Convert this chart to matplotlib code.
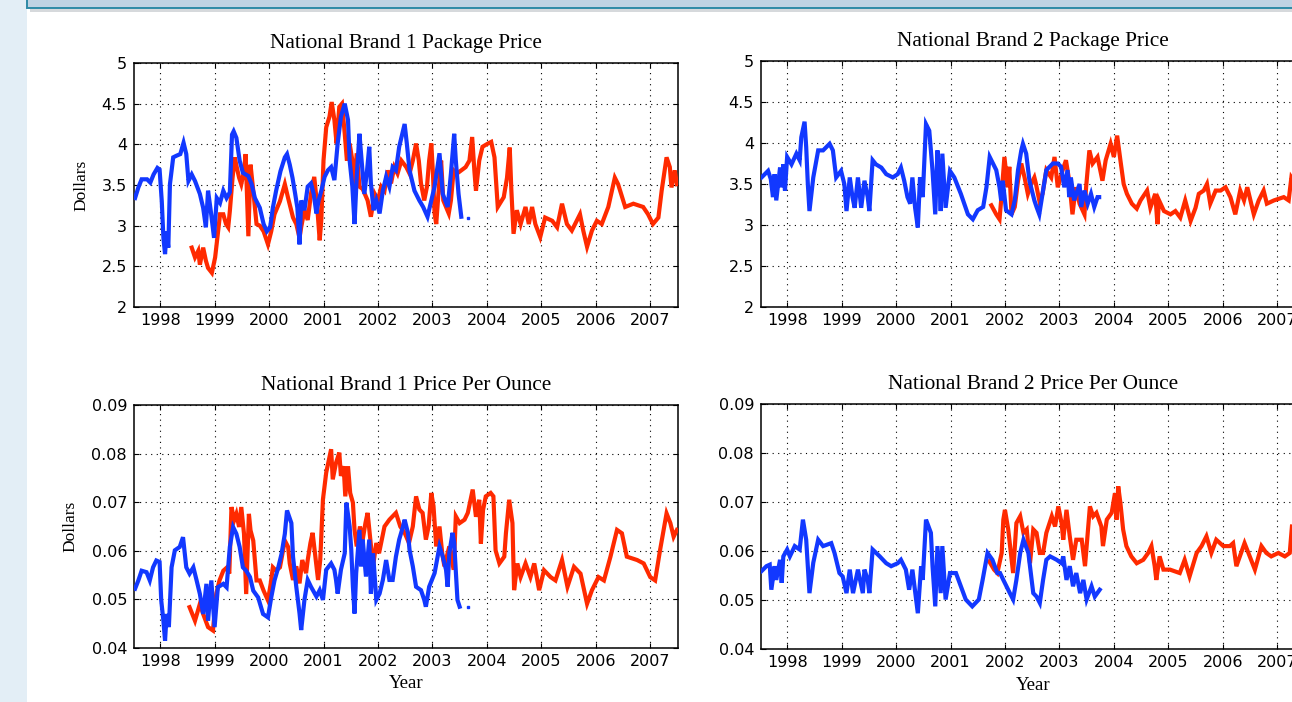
import matplotlib
matplotlib.use("Agg")
import matplotlib.pyplot as plt
from matplotlib.patches import Rectangle

# ---- data ----
years = [1998, 1999, 2000, 2001, 2002, 2003, 2004, 2005, 2006, 2007]
pkg_ticks = [2, 2.5, 3, 3.5, 4, 4.5, 5]
pkg_labels = ["2", "2.5", "3", "3.5", "4", "4.5", "5"]
oz_ticks = [0.04, 0.05, 0.06, 0.07, 0.08, 0.09]
oz_labels = ["0.04", "0.05", "0.06", "0.07", "0.08", "0.09"]

titles = ["National Brand 1 Package Price", "National Brand 2 Package Price",
          "National Brand 1 Price Per Ounce", "National Brand 2 Price Per Ounce"]

# National Brand 1 package price
nb1_pkg_blue_t = [1997.54, 1997.60, 1997.66, 1997.76, 1997.82, 1997.88, 1997.95, 1997.99, 1998.03, 1998.06,
                  1998.09, 1998.12, 1998.15, 1998.18, 1998.24, 1998.30, 1998.37, 1998.43, 1998.48, 1998.52,
                  1998.58, 1998.64, 1998.73, 1998.79, 1998.84, 1998.88, 1998.93, 1998.99, 1999.04, 1999.10,
                  1999.16, 1999.22, 1999.28, 1999.32, 1999.35, 1999.40, 1999.46, 1999.52, 1999.62, 1999.68,
                  1999.74, 1999.83, 1999.90, 1999.96, 2000.02, 2000.07, 2000.13, 2000.21, 2000.29, 2000.33,
                  2000.38, 2000.43, 2000.48, 2000.52, 2000.56, 2000.59, 2000.65, 2000.71, 2000.77, 2000.82,
                  2000.87, 2000.91, 2000.96, 2001.02, 2001.08, 2001.14, 2001.20, 2001.26, 2001.32, 2001.39,
                  2001.45, 2001.48, 2001.53, 2001.57, 2001.61, 2001.66, 2001.70, 2001.75, 2001.80, 2001.84,
                  2001.87, 2001.92, 2001.97, 2002.03, 2002.09, 2002.15, 2002.21, 2002.27, 2002.33, 2002.39,
                  2002.49, 2002.53, 2002.58, 2002.67, 2002.76, 2002.83, 2002.91, 2002.98, 2003.04, 2003.13,
                  2003.19, 2003.28, 2003.34, 2003.40, 2003.43, 2003.48, 2003.53]
nb1_pkg_blue = [3.34, 3.47, 3.57, 3.57, 3.53, 3.63, 3.71, 3.69, 3.30, 2.85,
                2.65, 2.93, 2.73, 3.51, 3.84, 3.86, 3.88, 4.02, 3.88, 3.55,
                3.63, 3.55, 3.39, 3.22, 2.98, 3.43, 3.18, 2.85, 3.34, 3.28,
                3.43, 3.34, 3.41, 4.12, 4.16, 4.08, 3.80, 3.65, 3.61, 3.51,
                3.34, 3.22, 3.02, 2.93, 2.98, 3.22, 3.43, 3.67, 3.84, 3.88,
                3.75, 3.59, 3.39, 3.22, 2.77, 3.31, 3.19, 3.48, 3.52, 3.39,
                3.15, 3.31, 3.43, 3.60, 3.68, 3.72, 3.56, 4.01, 4.34, 4.50,
                4.30, 3.80, 3.48, 3.02, 3.60, 4.13, 3.80, 3.39, 3.68, 3.97,
                3.52, 3.19, 3.31, 3.15, 3.43, 3.60, 3.48, 3.72, 3.68, 3.97,
                4.25, 4.01, 3.68, 3.43, 3.31, 3.23, 3.11, 3.31, 3.48, 3.89,
                3.39, 3.23, 3.64, 4.13, 3.80, 3.39, 3.11]
nb1_pkg_red_t = [1998.58, 1998.64, 1998.70, 1998.73, 1998.79, 1998.84, 1998.88, 1998.95, 1999.01, 1999.05,
                 1999.10, 1999.16, 1999.21, 1999.25, 1999.28, 1999.33, 1999.37, 1999.41, 1999.45, 1999.49,
                 1999.54, 1999.57, 1999.62, 1999.66, 1999.71, 1999.77, 1999.83, 1999.90, 1999.98, 2000.04,
                 2000.10, 2000.20, 2000.29, 2000.35, 2000.44, 2000.50, 2000.56, 2000.59, 2000.65, 2000.71,
                 2000.77, 2000.83, 2000.88, 2000.93, 2000.96, 2001.00, 2001.05, 2001.11, 2001.15, 2001.20,
                 2001.24, 2001.29, 2001.34, 2001.39, 2001.43, 2001.48, 2001.53, 2001.57, 2001.61, 2001.66,
                 2001.72, 2001.81, 2001.87, 2001.94, 2002.00, 2002.06, 2002.12, 2002.18, 2002.24, 2002.30,
                 2002.36, 2002.43, 2002.52, 2002.58, 2002.64, 2002.70, 2002.75, 2002.79, 2002.85, 2002.90,
                 2002.94, 2002.98, 2003.01, 2003.04, 2003.07, 2003.12, 2003.16, 2003.20, 2003.25, 2003.30,
                 2003.34, 2003.39, 2003.45, 2003.53, 2003.61, 2003.68, 2003.73, 2003.77, 2003.80, 2003.86,
                 2003.92, 2004.02, 2004.08, 2004.14, 2004.20, 2004.31, 2004.37, 2004.42, 2004.45, 2004.49,
                 2004.55, 2004.62, 2004.71, 2004.77, 2004.83, 2004.89, 2004.98, 2005.07, 2005.20, 2005.29,
                 2005.38, 2005.47, 2005.56, 2005.65, 2005.71, 2005.77, 2005.84, 2005.93, 2006.02, 2006.11,
                 2006.23, 2006.35, 2006.41, 2006.54, 2006.69, 2006.87, 2006.96, 2007.05, 2007.15, 2007.21,
                 2007.30, 2007.36, 2007.39, 2007.45, 2007.49]
nb1_pkg_red = [2.73, 2.61, 2.69, 2.52, 2.73, 2.57, 2.48, 2.42, 2.61, 2.85,
               3.14, 3.14, 3.02, 2.98, 3.18, 3.59, 3.84, 3.71, 3.59, 3.51,
               3.67, 3.88, 2.87, 3.75, 3.43, 3.02, 3.00, 2.93, 2.77, 2.93,
               3.14, 3.30, 3.51, 3.34, 3.10, 3.02, 2.85, 2.98, 3.19, 3.07,
               3.39, 3.60, 3.27, 2.82, 3.07, 3.80, 4.21, 4.34, 4.52, 4.30,
               4.01, 4.46, 4.50, 4.13, 3.80, 4.01, 3.80, 3.48, 3.89, 3.48,
               3.45, 3.31, 3.11, 3.39, 3.31, 3.48, 3.43, 3.68, 3.52, 3.72,
               3.64, 3.80, 3.72, 3.64, 3.80, 4.01, 3.80, 3.52, 3.31, 3.48,
               3.80, 4.01, 3.64, 3.15, 3.02, 3.48, 3.80, 3.31, 3.23, 3.15,
               3.31, 3.68, 3.64, 3.68, 3.72, 3.80, 4.09, 3.68, 3.43, 3.80,
               3.97, 4.01, 4.03, 3.84, 3.23, 3.35, 3.59, 3.96, 3.43, 2.90,
               3.19, 3.02, 3.23, 3.02, 3.23, 3.02, 2.86, 3.10, 3.06, 2.98,
               3.27, 3.02, 2.94, 3.06, 3.14, 2.94, 2.74, 2.94, 3.06, 3.02,
               3.23, 3.59, 3.51, 3.23, 3.27, 3.23, 3.14, 3.02, 3.10, 3.43,
               3.84, 3.72, 3.47, 3.68, 3.51]
nb1_pkg_dot = ([2003.65], [3.09])

# National Brand 2 package price
nb2_pkg_blue_t = [1997.53, 1997.59, 1997.65, 1997.70, 1997.74, 1997.77, 1997.80, 1997.87, 1997.90, 1997.93,
                  1997.96, 1998.00, 1998.08, 1998.17, 1998.23, 1998.26, 1998.32, 1998.35, 1998.38, 1998.41,
                  1998.48, 1998.57, 1998.66, 1998.78, 1998.84, 1998.90, 1998.99, 1999.05, 1999.09, 1999.15,
                  1999.20, 1999.24, 1999.30, 1999.36, 1999.42, 1999.48, 1999.51, 1999.57, 1999.63, 1999.73,
                  1999.82, 1999.94, 2000.03, 2000.09, 2000.15, 2000.21, 2000.26, 2000.30, 2000.35, 2000.40,
                  2000.44, 2000.49, 2000.55, 2000.61, 2000.64, 2000.67, 2000.72, 2000.76, 2000.80, 2000.82,
                  2000.85, 2000.91, 2000.99, 2001.07, 2001.19, 2001.32, 2001.41, 2001.50, 2001.60, 2001.66,
                  2001.72, 2001.78, 2001.84, 2001.90, 2001.93, 2001.96, 2002.02, 2002.12, 2002.18, 2002.24,
                  2002.30, 2002.33, 2002.39, 2002.45, 2002.54, 2002.58, 2002.63, 2002.69, 2002.76, 2002.88,
                  2002.97, 2003.03, 2003.09, 2003.15, 2003.18, 2003.21, 2003.27, 2003.37, 2003.40, 2003.46,
                  2003.52, 2003.58, 2003.64, 2003.70, 2003.73]
nb2_pkg_blue = [3.58, 3.62, 3.66, 3.56, 3.34, 3.62, 3.30, 3.70, 3.46, 3.74,
                3.42, 3.83, 3.74, 3.87, 3.79, 4.07, 4.26, 3.95, 3.50, 3.17,
                3.58, 3.91, 3.91, 3.99, 3.91, 3.58, 3.66, 3.50, 3.17, 3.58,
                3.34, 3.21, 3.58, 3.21, 3.54, 3.34, 3.17, 3.79, 3.74, 3.70,
                3.62, 3.58, 3.62, 3.70, 3.54, 3.34, 3.26, 3.58, 3.21, 2.97,
                3.58, 3.34, 4.23, 4.15, 3.91, 3.66, 3.13, 3.91, 3.50, 3.17,
                3.87, 3.21, 3.66, 3.58, 3.38, 3.13, 3.07, 3.18, 3.22, 3.46,
                3.83, 3.75, 3.67, 3.46, 3.30, 3.54, 3.18, 3.13, 3.30, 3.67,
                3.91, 3.99, 3.87, 3.54, 3.30, 3.22, 3.13, 3.38, 3.67, 3.75,
                3.75, 3.71, 3.46, 3.67, 3.34, 3.58, 3.30, 3.50, 3.22, 3.42,
                3.26, 3.38, 3.22, 3.34, 3.34]
nb2_pkg_red_t = [2001.75, 2001.84, 2001.90, 2001.93, 2001.99, 2002.05, 2002.08, 2002.12, 2002.18, 2002.24,
                 2002.30, 2002.36, 2002.42, 2002.48, 2002.54, 2002.57, 2002.63, 2002.69, 2002.76, 2002.85,
                 2002.91, 2002.97, 2003.06, 2003.12, 2003.18, 2003.24, 2003.30, 2003.37, 2003.46, 2003.49,
                 2003.55, 2003.61, 2003.70, 2003.79, 2003.85, 2003.94, 2004.00, 2004.06, 2004.12, 2004.18,
                 2004.24, 2004.33, 2004.42, 2004.49, 2004.61, 2004.67, 2004.76, 2004.80, 2004.83, 2004.92,
                 2005.04, 2005.13, 2005.22, 2005.31, 2005.41, 2005.50, 2005.56, 2005.65, 2005.71, 2005.77,
                 2005.87, 2005.96, 2006.05, 2006.14, 2006.23, 2006.32, 2006.39, 2006.45, 2006.57, 2006.66,
                 2006.75, 2006.81, 2006.94, 2007.12, 2007.21, 2007.26, 2007.28]
nb2_pkg_red = [3.24, 3.13, 3.07, 3.30, 3.83, 3.46, 3.71, 3.13, 3.22, 3.54,
               3.75, 3.58, 3.38, 3.50, 3.58, 3.50, 3.30, 3.38, 3.67, 3.58,
               3.83, 3.46, 3.67, 3.79, 3.54, 3.13, 3.46, 3.26, 3.13, 3.46,
               3.91, 3.75, 3.83, 3.54, 3.79, 3.99, 3.83, 4.09, 3.79, 3.50,
               3.38, 3.26, 3.20, 3.30, 3.42, 3.21, 3.38, 3.01, 3.30, 3.17,
               3.13, 3.17, 3.09, 3.30, 3.05, 3.21, 3.38, 3.42, 3.50, 3.26,
               3.42, 3.42, 3.46, 3.34, 3.13, 3.42, 3.30, 3.46, 3.13, 3.30,
               3.42, 3.26, 3.30, 3.34, 3.30, 3.58, 3.56]

# National Brand 1 price per ounce
nb1_oz_blue_t = [1997.54, 1997.60, 1997.66, 1997.75, 1997.81, 1997.87, 1997.93, 1997.99, 1998.02, 1998.06,
                 1998.09, 1998.12, 1998.16, 1998.21, 1998.27, 1998.36, 1998.42, 1998.48, 1998.54, 1998.61,
                 1998.67, 1998.73, 1998.79, 1998.85, 1998.88, 1998.94, 1999.00, 1999.06, 1999.16, 1999.22,
                 1999.28, 1999.34, 1999.40, 1999.46, 1999.52, 1999.58, 1999.65, 1999.71, 1999.80, 1999.89,
                 1999.98, 2000.04, 2000.10, 2000.17, 2000.23, 2000.29, 2000.33, 2000.41, 2000.44, 2000.50,
                 2000.56, 2000.59, 2000.65, 2000.71, 2000.77, 2000.87, 2000.93, 2000.99, 2001.05, 2001.14,
                 2001.20, 2001.23, 2001.26, 2001.32, 2001.39, 2001.42, 2001.48, 2001.51, 2001.54, 2001.57,
                 2001.60, 2001.66, 2001.69, 2001.72, 2001.78, 2001.84, 2001.87, 2001.91, 2001.97, 2002.03,
                 2002.09, 2002.15, 2002.21, 2002.27, 2002.33, 2002.39, 2002.46, 2002.49, 2002.55, 2002.58,
                 2002.64, 2002.70, 2002.79, 2002.85, 2002.88, 2002.94, 2003.04, 2003.13, 2003.19, 2003.25,
                 2003.28, 2003.31, 2003.37, 2003.40, 2003.46, 2003.50]
nb1_oz_blue = [0.0522, 0.0539, 0.0559, 0.0556, 0.0539, 0.0566, 0.0580, 0.0577, 0.0498, 0.0456,
               0.0415, 0.0470, 0.0443, 0.0566, 0.0601, 0.0608, 0.0628, 0.0566, 0.0553, 0.0566,
               0.0539, 0.0511, 0.0470, 0.0532, 0.0456, 0.0539, 0.0443, 0.0525, 0.0532, 0.0525,
               0.0608, 0.0649, 0.0635, 0.0608, 0.0566, 0.0559, 0.0546, 0.0518, 0.0504, 0.0470,
               0.0463, 0.0504, 0.0539, 0.0566, 0.0594, 0.0635, 0.0683, 0.0657, 0.0588, 0.0526,
               0.0471, 0.0437, 0.0499, 0.0540, 0.0526, 0.0506, 0.0519, 0.0499, 0.0561, 0.0574,
               0.0561, 0.0540, 0.0512, 0.0561, 0.0595, 0.0699, 0.0650, 0.0602, 0.0526, 0.0471,
               0.0554, 0.0643, 0.0568, 0.0623, 0.0547, 0.0623, 0.0512, 0.0595, 0.0499, 0.0512,
               0.0540, 0.0581, 0.0540, 0.0540, 0.0588, 0.0623, 0.0650, 0.0664, 0.0637, 0.0602,
               0.0568, 0.0526, 0.0519, 0.0499, 0.0485, 0.0526, 0.0554, 0.0609, 0.0588, 0.0561,
               0.0526, 0.0595, 0.0637, 0.0616, 0.0499, 0.0485]
nb1_oz_red_t = [1998.54, 1998.64, 1998.73, 1998.79, 1998.88, 1998.97, 1999.03, 1999.09, 1999.16, 1999.23,
                1999.27, 1999.31, 1999.36, 1999.40, 1999.45, 1999.49, 1999.54, 1999.58, 1999.63, 1999.66,
                1999.71, 1999.77, 1999.83, 1999.90, 1999.98, 2000.03, 2000.07, 2000.13, 2000.20, 2000.29,
                2000.35, 2000.38, 2000.44, 2000.50, 2000.56, 2000.61, 2000.68, 2000.71, 2000.76, 2000.80,
                2000.85, 2000.90, 2000.94, 2000.99, 2001.05, 2001.10, 2001.14, 2001.17, 2001.23, 2001.29,
                2001.32, 2001.37, 2001.40, 2001.45, 2001.49, 2001.54, 2001.57, 2001.61, 2001.67, 2001.72,
                2001.77, 2001.81, 2001.86, 2001.91, 2001.97, 2002.02, 2002.12, 2002.21, 2002.27, 2002.33,
                2002.41, 2002.49, 2002.57, 2002.64, 2002.70, 2002.76, 2002.82, 2002.88, 2002.93, 2002.98,
                2003.02, 2003.07, 2003.13, 2003.18, 2003.22, 2003.31, 2003.39, 2003.43, 2003.50, 2003.59,
                2003.65, 2003.74, 2003.80, 2003.86, 2003.89, 2003.93, 2003.98, 2004.07, 2004.12, 2004.16,
                2004.23, 2004.32, 2004.35, 2004.41, 2004.47, 2004.50, 2004.56, 2004.62, 2004.71, 2004.80,
                2004.87, 2004.96, 2005.05, 2005.17, 2005.26, 2005.38, 2005.48, 2005.60, 2005.72, 2005.84,
                2005.93, 2006.05, 2006.15, 2006.27, 2006.39, 2006.48, 2006.57, 2006.76, 2006.88, 2007.00,
                2007.09, 2007.18, 2007.30, 2007.37, 2007.43, 2007.49]
nb1_oz_red = [0.0484, 0.0456, 0.0491, 0.0470, 0.0443, 0.0436, 0.0511, 0.0539, 0.0559, 0.0566,
              0.0553, 0.0690, 0.0663, 0.0676, 0.0649, 0.0690, 0.0635, 0.0511, 0.0676, 0.0642,
              0.0621, 0.0539, 0.0539, 0.0518, 0.0498, 0.0532, 0.0566, 0.0559, 0.0566, 0.0621,
              0.0608, 0.0574, 0.0540, 0.0568, 0.0533, 0.0581, 0.0554, 0.0581, 0.0616, 0.0637,
              0.0588, 0.0540, 0.0581, 0.0706, 0.0761, 0.0788, 0.0809, 0.0747, 0.0781, 0.0802,
              0.0754, 0.0774, 0.0712, 0.0774, 0.0719, 0.0699, 0.0643, 0.0609, 0.0650, 0.0623,
              0.0657, 0.0678, 0.0623, 0.0568, 0.0616, 0.0595, 0.0650, 0.0664, 0.0671, 0.0678,
              0.0650, 0.0637, 0.0616, 0.0650, 0.0712, 0.0685, 0.0678, 0.0623, 0.0650, 0.0719,
              0.0692, 0.0609, 0.0650, 0.0595, 0.0568, 0.0609, 0.0561, 0.0671, 0.0657, 0.0664,
              0.0678, 0.0726, 0.0670, 0.0705, 0.0615, 0.0684, 0.0712, 0.0719, 0.0712, 0.0601,
              0.0574, 0.0588, 0.0636, 0.0705, 0.0657, 0.0519, 0.0574, 0.0546, 0.0574, 0.0546,
              0.0574, 0.0519, 0.0560, 0.0546, 0.0539, 0.0581, 0.0526, 0.0567, 0.0553, 0.0491,
              0.0519, 0.0546, 0.0539, 0.0588, 0.0643, 0.0636, 0.0588, 0.0581, 0.0574, 0.0546,
              0.0539, 0.0601, 0.0677, 0.0657, 0.0629, 0.0643]
nb1_oz_dot = ([2003.66], [0.0485])

# National Brand 2 price per ounce
nb2_oz_blue_t = [1997.53, 1997.62, 1997.68, 1997.71, 1997.77, 1997.80, 1997.87, 1997.90, 1997.93, 1998.00,
                 1998.05, 1998.14, 1998.23, 1998.29, 1998.35, 1998.41, 1998.48, 1998.57, 1998.66, 1998.81,
                 1998.87, 1998.96, 1999.02, 1999.09, 1999.15, 1999.21, 1999.30, 1999.39, 1999.42, 1999.48,
                 1999.51, 1999.57, 1999.70, 1999.82, 1999.91, 2000.03, 2000.09, 2000.18, 2000.24, 2000.30,
                 2000.40, 2000.46, 2000.49, 2000.55, 2000.64, 2000.67, 2000.72, 2000.76, 2000.82, 2000.85,
                 2000.91, 2000.99, 2001.10, 2001.19, 2001.28, 2001.40, 2001.52, 2001.59, 2001.68, 2001.77,
                 2001.86, 2001.91, 2001.97, 2002.09, 2002.15, 2002.21, 2002.28, 2002.34, 2002.43, 2002.49,
                 2002.52, 2002.58, 2002.64, 2002.70, 2002.76, 2002.83, 2002.95, 2003.04, 2003.07, 2003.13,
                 2003.19, 2003.25, 2003.31, 2003.38, 2003.44, 2003.50, 2003.59, 2003.65, 2003.74]
nb2_oz_blue = [0.0559, 0.0569, 0.0572, 0.0521, 0.0569, 0.0541, 0.0582, 0.0535, 0.0589, 0.0603,
               0.0589, 0.0610, 0.0603, 0.0664, 0.0623, 0.0514, 0.0576, 0.0623, 0.0610, 0.0616,
               0.0596, 0.0555, 0.0548, 0.0514, 0.0562, 0.0514, 0.0562, 0.0514, 0.0562, 0.0541,
               0.0514, 0.0603, 0.0589, 0.0575, 0.0569, 0.0575, 0.0582, 0.0562, 0.0521, 0.0562,
               0.0473, 0.0569, 0.0541, 0.0664, 0.0637, 0.0569, 0.0487, 0.0610, 0.0514, 0.0610,
               0.0501, 0.0555, 0.0555, 0.0528, 0.0501, 0.0487, 0.0501, 0.0541, 0.0596, 0.0582,
               0.0555, 0.0555, 0.0541, 0.0514, 0.0501, 0.0541, 0.0596, 0.0623, 0.0596, 0.0541,
               0.0514, 0.0507, 0.0494, 0.0541, 0.0582, 0.0589, 0.0582, 0.0575, 0.0589, 0.0541,
               0.0569, 0.0528, 0.0555, 0.0514, 0.0541, 0.0501, 0.0528, 0.0507, 0.0521]
nb2_oz_red_t = [2001.71, 2001.80, 2001.86, 2001.94, 2001.97, 2002.00, 2002.06, 2002.15, 2002.21, 2002.28,
                2002.34, 2002.40, 2002.46, 2002.52, 2002.58, 2002.64, 2002.70, 2002.76, 2002.86, 2002.92,
                2002.98, 2003.04, 2003.07, 2003.13, 2003.19, 2003.25, 2003.31, 2003.41, 2003.47, 2003.56,
                2003.62, 2003.68, 2003.77, 2003.80, 2003.87, 2003.96, 2004.02, 2004.05, 2004.08, 2004.12,
                2004.17, 2004.23, 2004.32, 2004.42, 2004.54, 2004.63, 2004.69, 2004.75, 2004.78, 2004.84,
                2004.91, 2005.03, 2005.21, 2005.30, 2005.39, 2005.52, 2005.61, 2005.70, 2005.79, 2005.88,
                2006.01, 2006.13, 2006.19, 2006.25, 2006.40, 2006.59, 2006.71, 2006.80, 2006.89, 2007.02,
                2007.14, 2007.23, 2007.27]
nb2_oz_red = [0.0579, 0.0562, 0.0555, 0.0596, 0.0664, 0.0684, 0.0644, 0.0555, 0.0657, 0.0671,
              0.0637, 0.0644, 0.0575, 0.0644, 0.0637, 0.0596, 0.0596, 0.0637, 0.0671, 0.0650,
              0.0691, 0.0657, 0.0623, 0.0684, 0.0630, 0.0582, 0.0623, 0.0623, 0.0569, 0.0691,
              0.0671, 0.0678, 0.0650, 0.0610, 0.0664, 0.0678, 0.0718, 0.0664, 0.0732, 0.0698,
              0.0644, 0.0610, 0.0589, 0.0575, 0.0582, 0.0596, 0.0610, 0.0569, 0.0541, 0.0589,
              0.0562, 0.0562, 0.0555, 0.0582, 0.0548, 0.0596, 0.0610, 0.0630, 0.0596, 0.0623,
              0.0610, 0.0610, 0.0616, 0.0569, 0.0616, 0.0562, 0.0610, 0.0596, 0.0589, 0.0596,
              0.0589, 0.0596, 0.0650]

BLUE = "#1238ff"
RED = "#ff2a00"
W, H = 1292, 702

fig = plt.figure(figsize=(W / 100, H / 100), dpi=100)
fig.patch.set_facecolor("white")

# slide decoration: pale strip on the left, header bar on top
fig.patches.append(Rectangle((0, 0), 27 / W, 1, transform=fig.transFigure,
                             facecolor="#e3eef6", edgecolor="none", zorder=0))
fig.patches.append(Rectangle((27 / W, 1 - 8 / H), 1, 10 / H, transform=fig.transFigure,
                             facecolor="#bfd3e3", edgecolor="#2e8aa6", linewidth=1.4, zorder=1))
fig.patches.append(Rectangle((30 / W, 1 - 12 / H), 1, 3 / H, transform=fig.transFigure,
                             facecolor="#d6d9dc", edgecolor="none", zorder=0))


def px_box(left, top, right, bottom):
    return [left / W, 1 - bottom / H, (right - left) / W, (bottom - top) / H]


boxes = [px_box(134, 63, 678, 307), px_box(761, 61, 1305, 307),
         px_box(134, 405, 678, 648), px_box(761, 404, 1305, 649)]

series = [
    (nb1_pkg_red_t, nb1_pkg_red, nb1_pkg_blue_t, nb1_pkg_blue, nb1_pkg_dot),
    (nb2_pkg_red_t, nb2_pkg_red, nb2_pkg_blue_t, nb2_pkg_blue, None),
    (nb1_oz_red_t, nb1_oz_red, nb1_oz_blue_t, nb1_oz_blue, nb1_oz_dot),
    (nb2_oz_red_t, nb2_oz_red, nb2_oz_blue_t, nb2_oz_blue, None),
]

for i, (box, (rt, rv, bt, bv, dot)) in enumerate(zip(boxes, series)):
    ax = fig.add_axes(box)
    ax.plot(rt, rv, color=RED, lw=3.0, solid_joinstyle="miter", zorder=3)
    ax.plot(bt, bv, color=BLUE, lw=3.0, solid_joinstyle="miter", zorder=4)
    if dot is not None:
        ax.plot(dot[0], dot[1], "s", color=BLUE, ms=1.6, zorder=4)

    ax.set_xlim(1997.52, 2007.51)
    ax.set_xticks(years)
    ax.set_xticklabels([str(y) for y in years])
    if i < 2:
        ax.set_ylim(2, 5)
        ax.set_yticks(pkg_ticks)
        ax.set_yticklabels(pkg_labels)
    else:
        ax.set_ylim(0.04, 0.09)
        ax.set_yticks(oz_ticks)
        ax.set_yticklabels(oz_labels)

    ax.set_axisbelow(True)
    ax.grid(True, color="black", linestyle=(0, (1, 4)), linewidth=0.8)
    ax.tick_params(direction="in", length=3.6, width=0.8, top=True, right=True,
                   labelsize=11.5, colors="black")
    ax.tick_params(axis="x", pad=4)
    ax.tick_params(axis="y", pad=5)
    for lab in ax.get_xticklabels() + ax.get_yticklabels():
        lab.set_fontfamily("DejaVu Sans")
    for sp in ax.spines.values():
        sp.set_linewidth(1.1)
        sp.set_color("black")

    ax.set_title(titles[i], fontsize=15.3, family="Liberation Serif", pad=11)
    if i % 2 == 0:
        ax.set_ylabel("Dollars", fontsize=12.5, family="Liberation Serif", labelpad=9)
    if i >= 2:
        ax.set_xlabel("Year", fontsize=13.5, family="Liberation Serif", labelpad=5)

fig.savefig("out.png", dpi=100, facecolor=fig.get_facecolor())
